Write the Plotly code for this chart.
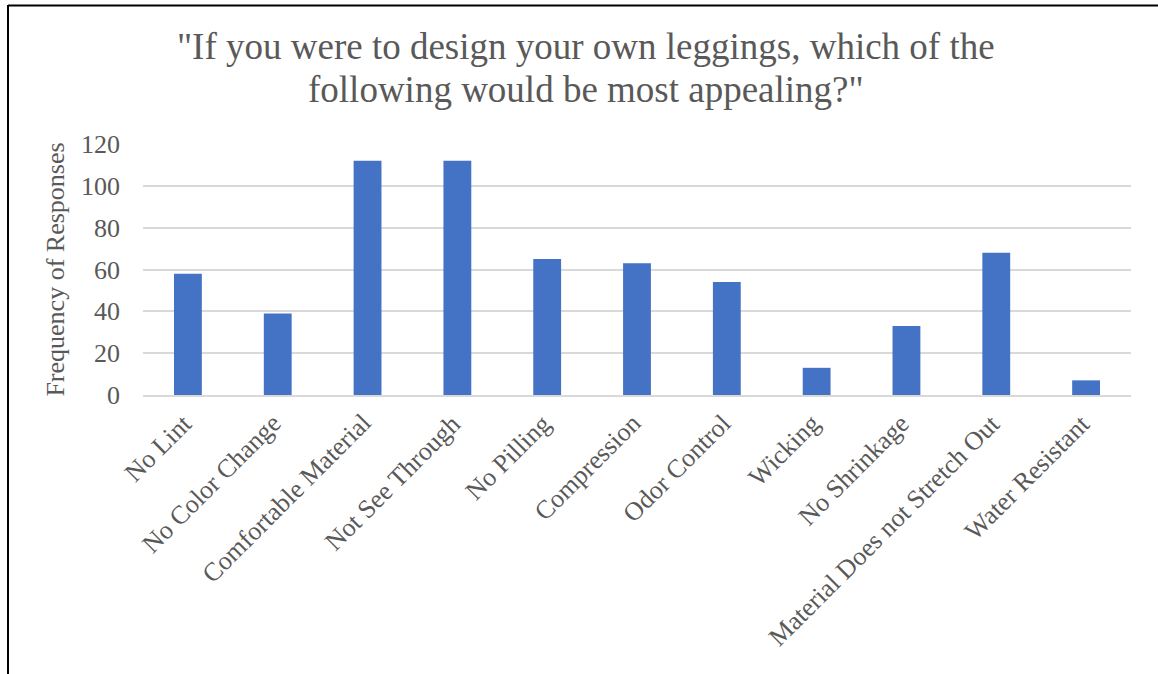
import plotly.graph_objects as go

# Survey responses per legging feature
categories = [
    "No Lint", "No Color Change", "Comfortable Material", "Not See Through",
    "No Pilling", "Compression", "Odor Control", "Wicking", "No Shrinkage",
    "Material Does not Stretch Out", "Water Resistant",
]
responses = [58, 39, 112, 112, 65, 63, 54, 13, 33, 68, 7]
y_ticks = [0, 20, 40, 60, 80, 100, 120]
title_lines = [
    '"If you were to design your own leggings, which of the',
    'following would be most appealing?"',
]

W, H = 1158, 674
ML, MR, MT, MB = 143, 27, 144, 279
PW, PH = W - ML - MR, H - MT - MB

FONT = "Liberation Serif"
GREY = "#595959"


def px_to_paper_x(px):
    return (px - ML) / PW


def px_to_paper_y(py):
    return (H - MB - py) / PH


fig = go.Figure(
    go.Bar(
        x=categories,
        y=responses,
        marker=dict(color="#4472C4", line=dict(width=0)),
    )
)

annotations = []
# two-line chart title, each line placed on its own baseline
for i, line in enumerate(title_lines):
    annotations.append(dict(
        text=line, xref="paper", yref="paper",
        x=px_to_paper_x(586), y=px_to_paper_y(47 + 42 * i),
        xanchor="center", yanchor="middle", showarrow=False,
        font=dict(family=FONT, size=37, color=GREY),
    ))

# slanted category labels hanging under each bar
for cat in categories:
    annotations.append(dict(
        text=cat, xref="x", yref="paper",
        x=cat, y=px_to_paper_y(406),
        xanchor="right", yanchor="top", textangle=-45,
        xshift=12, showarrow=False,
        font=dict(family=FONT, size=26, color=GREY),
    ))

fig.update_layout(
    width=W,
    height=H,
    margin=dict(l=ML, r=MR, t=MT, b=MB),
    paper_bgcolor="white",
    plot_bgcolor="white",
    bargap=0.69,
    showlegend=False,
    font=dict(family=FONT, color=GREY, size=24),
    xaxis=dict(
        range=[-0.5, len(categories) - 0.5],
        autorange=False,
        showticklabels=False,
        showgrid=False,
        showline=True,
        linecolor="#d9d9d9",
        linewidth=2,
        ticks="",
    ),
    yaxis=dict(
        range=[0, 120],
        tickvals=y_ticks,
        tickfont=dict(family=FONT, size=26, color=GREY),
        showgrid=True,
        gridcolor="#d9d9d9",
        gridwidth=2,
        zeroline=False,
        showline=False,
        ticks="",
        ticklabelstandoff=22,
        title=dict(
            text="Frequency of Responses",
            font=dict(family=FONT, size=26, color=GREY),
            standoff=8,
        ),
    ),
    annotations=annotations,
    shapes=[
        dict(
            type="line", xref="paper", yref="paper",
            x0=px_to_paper_x(8), x1=px_to_paper_x(W + 5),
            y0=px_to_paper_y(5.5), y1=px_to_paper_y(5.5),
            line=dict(color="black", width=2),
        ),
        dict(
            type="line", xref="paper", yref="paper",
            x0=px_to_paper_x(8), x1=px_to_paper_x(8),
            y0=px_to_paper_y(5), y1=px_to_paper_y(H + 5),
            line=dict(color="black", width=2),
        ),
    ],
)

fig.write_html("out.html")
